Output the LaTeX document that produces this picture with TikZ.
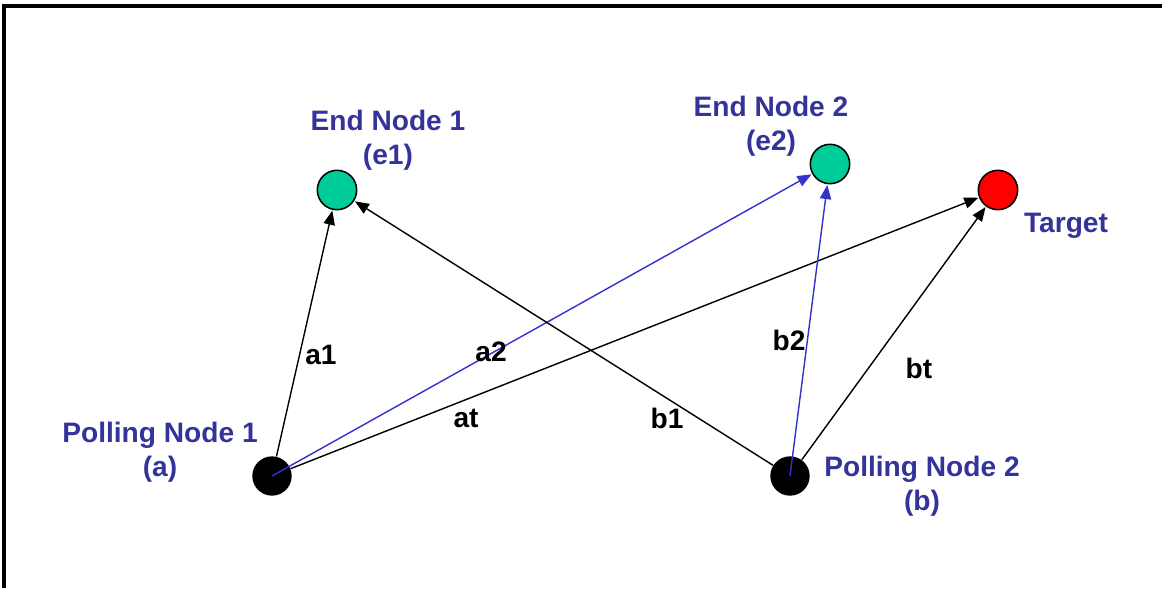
\documentclass[tikz,border=0pt]{standalone}
\usepackage{fontspec}
\setmainfont{Liberation Sans}
\usetikzlibrary{arrows.meta, positioning}
\definecolor{nodeblue}{RGB}{51,51,153}
\definecolor{linkblue}{RGB}{51,51,204}
\definecolor{endgreen}{RGB}{0,204,153}
\definecolor{targetred}{RGB}{255,0,0}

\tikzset{
  endpt/.style={circle, draw=black, line width=1.1pt, fill=endgreen, minimum size=28pt, inner sep=0pt},
  targetpt/.style={endpt, fill=targetred},
  pollpt/.style={circle, fill=black, minimum size=28pt, inner sep=0pt},
  tag/.style={text=nodeblue, font=\fontsize{20}{24}\selectfont\bfseries, align=center, inner sep=0pt},
  dist/.style={font=\fontsize{20}{24}\selectfont\bfseries, inner sep=0pt},
  link/.style={-{Triangle[length=10pt,width=8pt]}, line width=1pt, shorten >=0.5pt},
  bluelink/.style={link, draw=linkblue, fill=linkblue}
}

\begin{document}
\begin{tikzpicture}[x=0.025cm, y=-0.025cm]
  \useasboundingbox (0,0) rectangle (1171,588);
  % frame
  \draw[line width=2.4pt] (4,588) -- (4,6) -- (1162,6);

  % points
  \node[endpt] (e1) at (337,190) {};
  \node[endpt] (e2) at (830,164) {};
  \node[targetpt] (t) at (998,190) {};
  \node[pollpt] (a) at (272,476) {};
  \node[pollpt] (b) at (790,476) {};

  % names
  \node[tag] (e1name) at (388,140) {End Node 1\\(e1)};
  \node[tag] (e2name) at (771,126) {End Node 2\\(e2)};
  \node[tag] (tname) at (1066,226) {Target};
  \node[tag] (aname) at (160,452) {Polling Node 1\\(a)};
  \node[tag] (bname) at (922,486) {Polling Node 2\\(b)};

  % distances
  \draw[link] (a) -- (e1);
  \draw[bluelink] (a.center) -- (e2);
  \draw[link] (a) -- (t);
  \draw[link] (b) -- (e1);
  \draw[bluelink] (b.center) -- (e2);
  \draw[link] (b) -- (t);

  \node[dist] (la1) at (321,355) {a1};
  \node[dist] (la2) at (491,352) {a2};
  \node[dist] (lat) at (466,418) {at};
  \node[dist] (lb1) at (667,418) {b1};
  \node[dist] (lb2) at (789,340) {b2};
  \node[dist] (lbt) at (919,368) {bt};
\end{tikzpicture}
\end{document}
